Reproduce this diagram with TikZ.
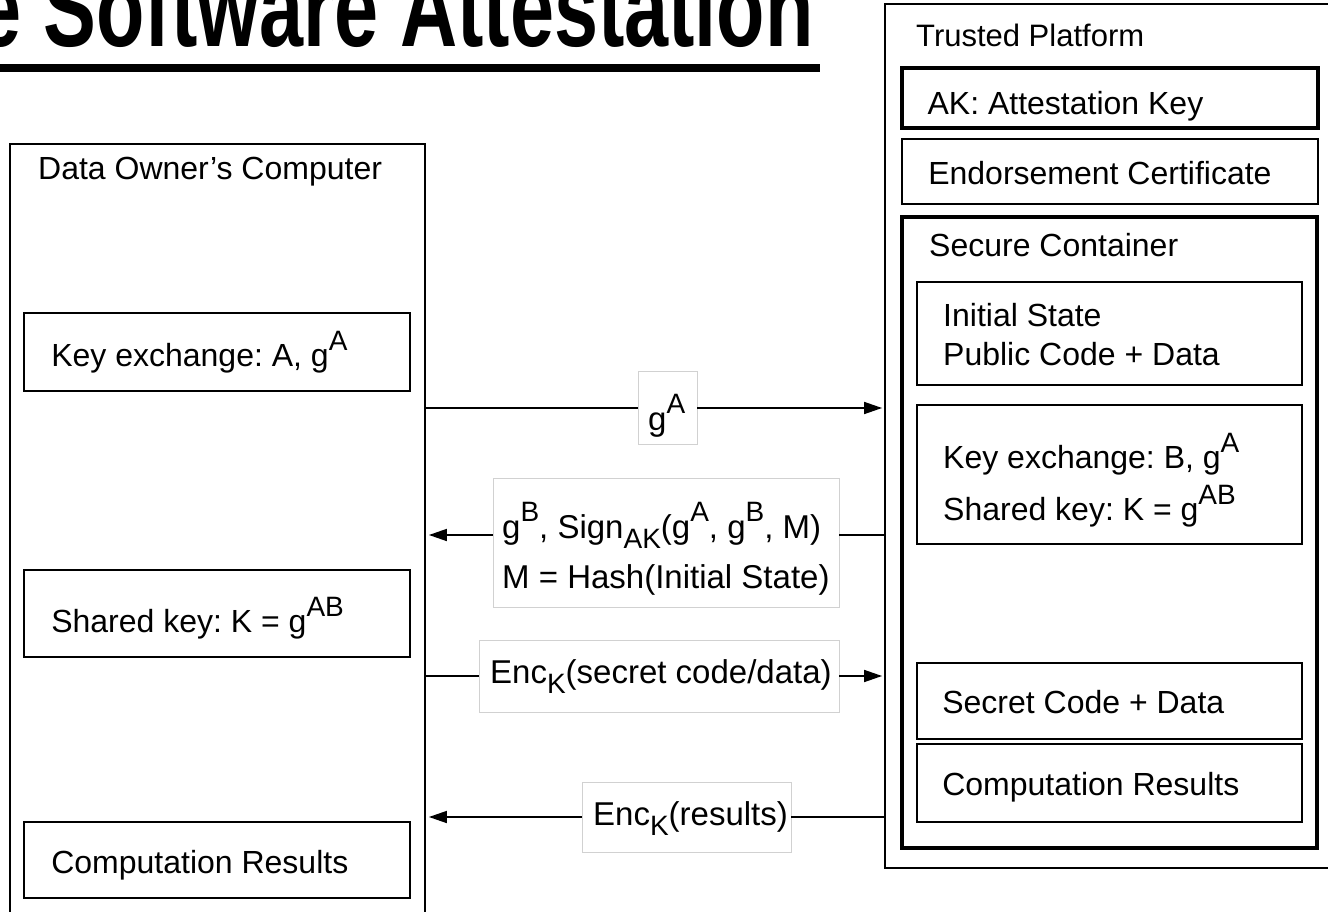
\documentclass[tikz,border=0pt]{standalone}
\usepackage{fontspec}
\setmainfont{Liberation Sans}
\usepackage{graphicx}
\usetikzlibrary{arrows.meta}
\frenchspacing
\newcommand\supx[1]{\raisebox{0.5em}{\fontsize{28}{28}\selectfont #1}}
\newcommand\subx[1]{\raisebox{-0.32em}{\fontsize{28}{28}\selectfont #1}}
\begin{document}
\begin{tikzpicture}[x=1pt,y=-1pt,
  frame/.style={draw, line width=1.8pt, inner sep=0pt},
  heavy/.style={draw, line width=3.2pt, inner sep=0pt},
  txt/.style={anchor=base west, inner sep=0pt, font=\fontsize{32}{39}\selectfont},
  ltxt/.style={anchor=base west, inner sep=0pt, font=\fontsize{33}{40}\selectfont},
  lbl/.style={draw=black!18, fill=white, line width=0.8pt, inner sep=0pt},
  conn/.style={line width=1.7pt},
  arr/.style={conn, -{Triangle[length=18pt,width=12pt]}}]
\useasboundingbox (0,0) rectangle (1328,912);

% title
\node[anchor=base east, inner sep=0pt, font=\fontsize{110}{110}\selectfont\bfseries] (title) at (814,47) {\scalebox{0.72}[1]{e Software Attestation}};
\node[fill, inner sep=0pt, minimum width=820pt, minimum height=8pt, anchor=north west] (uline) at (0,64) {};

% data owner side
\node[frame, minimum width=415pt, minimum height=791pt] (owner) at (217.5,539.5) {};
\node[txt] (ownerT) at (38,180) {Data Owner’s Computer};
\node[frame, minimum width=386pt, minimum height=78pt] (kxA) at (217,352) {};
\path (kxA.west) ++(28,14.7) node[txt] (kxAT) {Key exchange: A, g\supx{A}};
\node[frame, minimum width=386pt, minimum height=87pt] (skL) at (217,613.5) {};
\path (skL.west) ++(28,19.2) node[txt] (skLT) {Shared key: K = g\supx{AB}};
\node[frame, minimum width=386pt, minimum height=76pt] (crL) at (217,860) {};
\path (crL.west) ++(28,13) node[txt] (crLT) {Computation Results};

% trusted platform side
\node[frame, minimum width=460pt, minimum height=864pt] (platform) at (1115,436) {};
\node[txt, font=\fontsize{31}{37}\selectfont] (platformT) at (916,47) {Trusted Platform};
\node[heavy, minimum width=416pt, minimum height=60pt] (ak) at (1110,98) {};
\path (ak.west) ++(27,17) node[txt] (akT) {AK: Attestation Key};
\node[frame, minimum width=416pt, minimum height=65pt] (endo) at (1110,171.5) {};
\path (endo.west) ++(27,13.5) node[txt] (endoT) {Endorsement Certificate};
\node[heavy, minimum width=415pt, minimum height=631pt] (sc) at (1109.5,532.5) {};
\node[txt] (scT) at (929,257) {Secure Container};
\node[frame, minimum width=385pt, minimum height=103pt] (init) at (1109.5,333.5) {};
\node[txt] (initA) at (943,326.7) {Initial State};
\node[txt] (initB) at (943,365.7) {Public Code + Data};
\node[frame, minimum width=385pt, minimum height=139pt] (kxB) at (1109.5,474.5) {};
\node[txt] (kxBA) at (943,468) {Key exchange: B, g\supx{A}};
\node[txt] (kxBB) at (943,520) {Shared key: K = g\supx{AB}};
\node[frame, minimum width=385pt, minimum height=76pt] (scd) at (1109.5,701) {};
\path (scd.west) ++(26,12.3) node[txt] (scdT) {Secret Code + Data};
\node[frame, minimum width=385pt, minimum height=78pt] (crR) at (1109.5,783) {};
\path (crR.west) ++(26,12) node[txt] (crRT) {Computation Results};

% message labels
\node[lbl, minimum width=59pt, minimum height=73pt] (gA) at (667.5,408) {};
\node[ltxt] (gAT) at (648,430) {g\supx{A}};
\node[lbl, minimum width=346pt, minimum height=129pt] (sign) at (666,542.5) {};
\node[ltxt] (signA) at (502,538) {g\supx{B}, Sign\subx{AK}(g\supx{A}, g\supx{B}, M)};
\node[ltxt] (signB) at (502,588) {M = Hash(Initial State)};
\node[lbl, minimum width=360pt, minimum height=72pt] (encS) at (659,676) {};
\node[ltxt] (encST) at (490,683) {Enc\subx{K}(secret code/data)};
\node[lbl, minimum width=209pt, minimum height=70pt] (encR) at (686.5,817) {};
\node[ltxt] (encRT) at (593,825) {Enc\subx{K}(results)};

% connectors
\coordinate (m2) at (666,535);
\draw[conn] (owner.east |- gA) -- (gA.west);
\draw[arr, shorten >=2pt] (gA.east) -- (platform.west |- gA);
\draw[conn] (platform.west |- m2) -- (sign.east |- m2);
\draw[arr, shorten >=3pt] (sign.west |- m2) -- (owner.east |- m2);
\draw[conn] (owner.east |- encS) -- (encS.west);
\draw[arr, shorten >=2pt] (encS.east) -- (platform.west |- encS);
\draw[conn] (platform.west |- encR) -- (encR.east);
\draw[arr, shorten >=3pt] (encR.west) -- (owner.east |- encR);
\end{tikzpicture}
\end{document}
